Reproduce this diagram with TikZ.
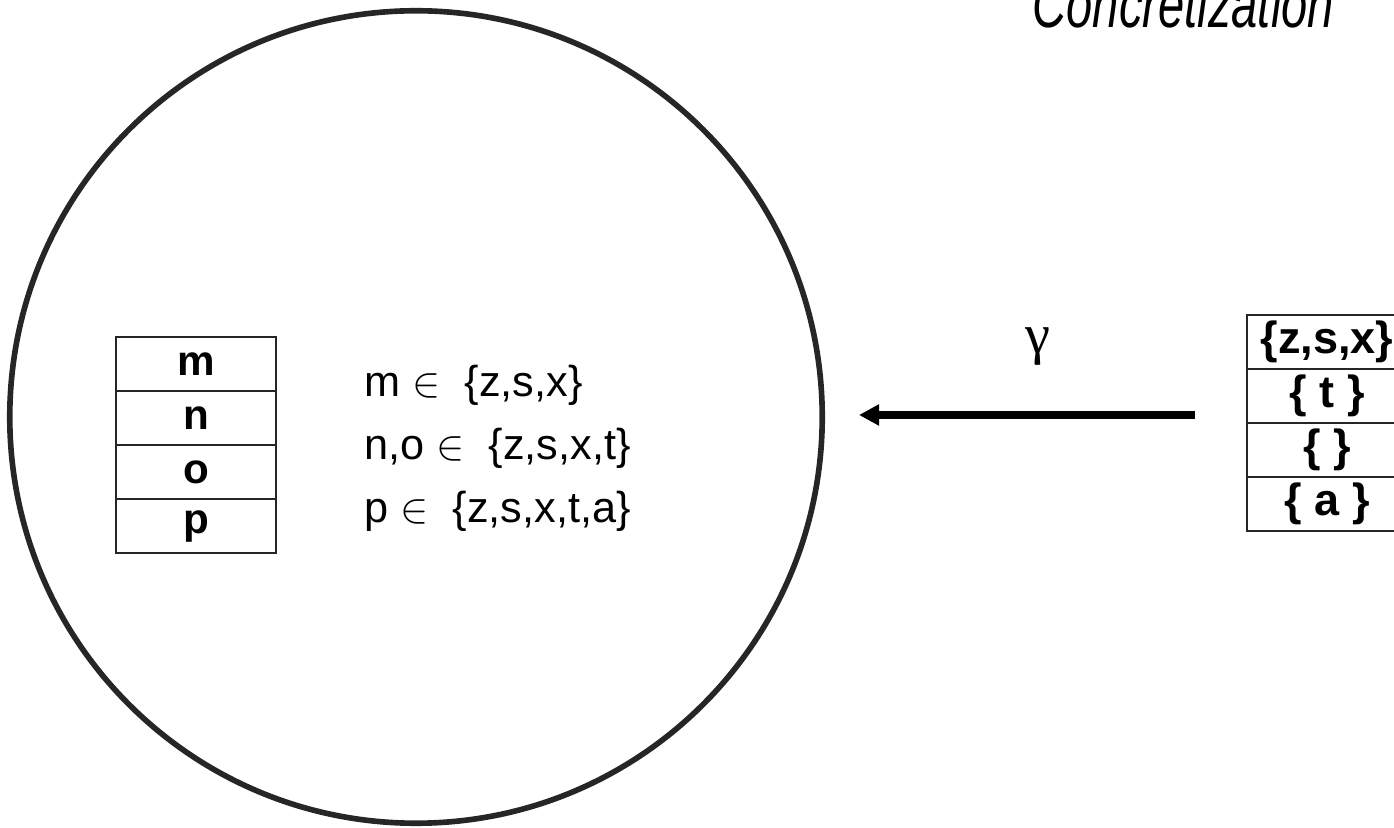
\documentclass[tikz,border=0pt]{standalone}
\usepackage{fontspec}
\setmainfont{Liberation Sans}
\newfontfamily\greekfont{Liberation Serif}
\usetikzlibrary{positioning,arrows.meta}

\tikzset{
  cell/.style={draw=black!85, line width=0.7pt, minimum width=1.6cm, minimum height=0.54cm,
    inner sep=0pt, outer sep=0pt, font=\fontsize{12}{12}\selectfont\bfseries},
  gammaarrow/.style={line width=2.3pt, -{Triangle[length=0.2cm,width=0.2cm]}},
}

\begin{document}
\begin{tikzpicture}[x=0.01cm,y=-0.01cm]
  \clip (0,0) rectangle (1394,828);
  % concrete domain
  \node[circle, draw=black!85, line width=1.6pt, minimum size=8.12cm, inner sep=0pt, outer sep=0pt] (domain) at (416,417) {};
  \node[anchor=base west, inner sep=0pt, font=\fontsize{13.4}{14}\selectfont\itshape] (title) at (1032,28)
    {\scalebox{1}[1.4]{Concretization}};

  % concrete stack
  \node[cell, anchor=north west] (m) at (116,337) {m};
  \node[cell, below=0pt of m] (n) {n};
  \node[cell, below=0pt of n] (o) {o};
  \node[cell, below=0pt of o] (p) {p};
  \node[anchor=west, align=left, font=\fontsize{12.3}{17.9}\selectfont] (facts) at (352,448)
    {m $\in$\ \ \{z,s,x\}\\ n,o $\in$\ \ \{z,s,x,t\}\\ p $\in$\ \ \{z,s,x,t,a\}};

  % abstract stack
  \node[cell, anchor=north west, font=\fontsize{12.8}{13}\selectfont\bfseries] (zsx) at (1247,315) {\{z,s,x\}};
  \node[cell, below=0pt of zsx, font=\fontsize{12.8}{13}\selectfont\bfseries] (t) {\{ t \}};
  \node[cell, below=0pt of t, font=\fontsize{12.8}{13}\selectfont\bfseries] (none) {\{ \}};
  \node[cell, below=0pt of none, font=\fontsize{12.8}{13}\selectfont\bfseries] (a) {\{ a \}};

  % gamma
  \coordinate (gtail) at (1195,415);
  \coordinate (ghead) at (859,415);
  \draw[gammaarrow] (gtail) -- (ghead);
  \node[anchor=base, font=\greekfont\fontsize{16}{16}\selectfont] (gamma) at (1038,354) {γ};
\end{tikzpicture}
\end{document}
